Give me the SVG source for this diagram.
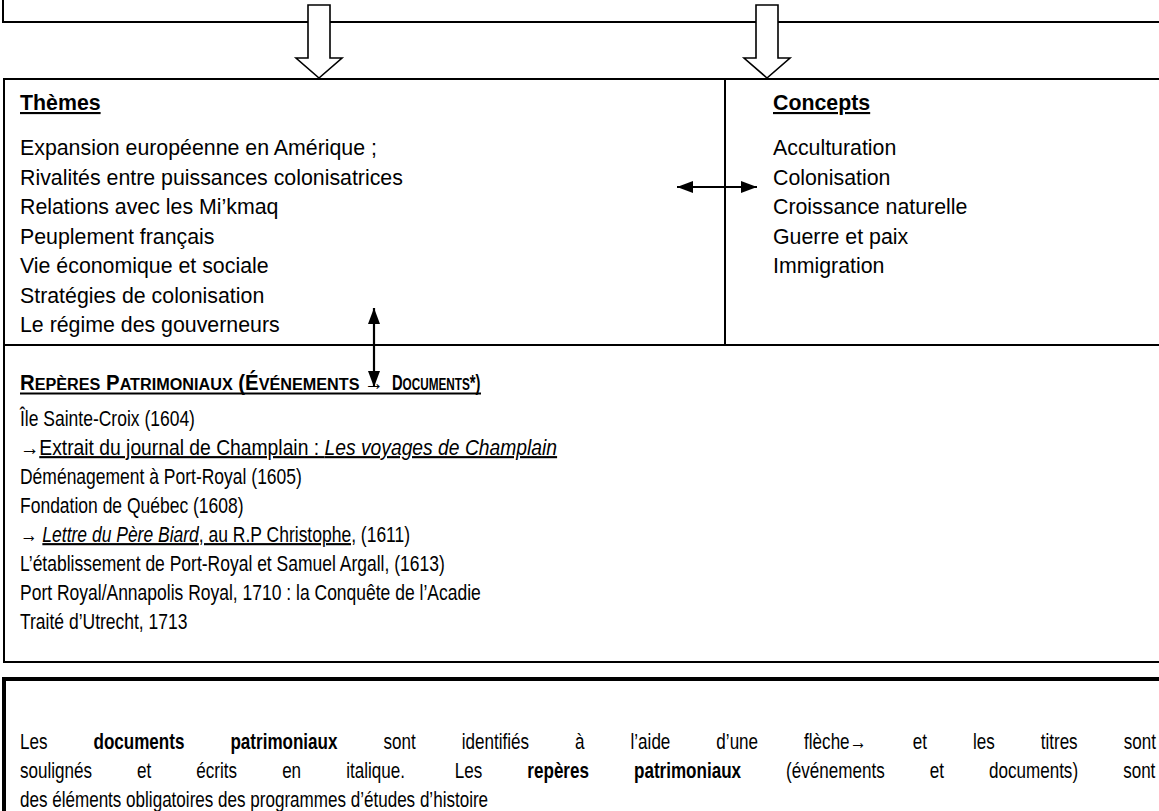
<svg xmlns="http://www.w3.org/2000/svg" width="1159" height="811" viewBox="0 0 1159 811">
<style>
.ln{stroke:#000;stroke-width:2;fill:none}
.blk{fill:#fff;stroke:#000;stroke-width:1.6;stroke-linejoin:miter}
.t{font-family:"Liberation Sans",Arial,sans-serif;font-size:21.33px;fill:#000}
.b{font-weight:bold}
.u{text-decoration:underline}
.i{font-style:italic}
.sc{font-size:17px}
</style>
<defs>
<marker id="ah" viewBox="0 0 16 12" refX="16" refY="6" markerWidth="16" markerHeight="12" markerUnits="userSpaceOnUse" orient="auto-start-reverse">
<path d="M0,0 L16,6 L0,12 z" fill="#000"/>
</marker>
</defs>
<rect width="1159" height="811" fill="#fff"/>

<g id="top-box">
<path class="ln" d="M3,0 V22 H1160"/>
</g>

<g id="main-box">
<path class="ln" d="M1160,79 H4 V662 H1160"/>
<path class="ln" d="M4,345 H1160"/>
<path class="ln" d="M725,79 V345"/>
</g>

<g id="connectors">
<path class="blk" d="M308,5 H330 V58 H342 L319,78 L296,58 H308 Z"/>
<path class="blk" d="M756,5 H778 V58 H790 L767,78 L744,58 H756 Z"/>
<line x1="677" y1="187" x2="757" y2="187" stroke="#000" stroke-width="2.2" marker-start="url(#ah)" marker-end="url(#ah)"/>
<line x1="374" y1="308" x2="374" y2="387" stroke="#000" stroke-width="2.2" marker-start="url(#ah)" marker-end="url(#ah)"/>
</g>

<g id="themes">
<text class="t b u" x="20" y="110">Thèmes</text>
<text class="t" x="20" y="155">Expansion européenne en Amérique ;</text>
<text class="t" x="20" y="184.5">Rivalités entre puissances colonisatrices</text>
<text class="t" x="20" y="214">Relations avec les Mi’kmaq</text>
<text class="t" x="20" y="243.5">Peuplement français</text>
<text class="t" x="20" y="273">Vie économique et sociale</text>
<text class="t" x="20" y="302.5">Stratégies de colonisation</text>
<text class="t" x="20" y="332">Le régime des gouverneurs</text>
</g>

<g id="concepts">
<text class="t b u" x="773" y="110">Concepts</text>
<text class="t" x="773" y="155">Acculturation</text>
<text class="t" x="773" y="184.5">Colonisation</text>
<text class="t" x="773" y="214">Croissance naturelle</text>
<text class="t" x="773" y="243.5">Guerre et paix</text>
<text class="t" x="773" y="273">Immigration</text>
</g>

<g id="reperes">
<line x1="20" y1="393.5" x2="481" y2="393.5" stroke="#000" stroke-width="2"/>
<g transform="scale(0.82 1)">
<text class="t b" x="24.4" y="390" textLength="414" lengthAdjust="spacingAndGlyphs">R<tspan class="sc">EPÈRES</tspan> P<tspan class="sc">ATRIMONIAUX</tspan> (É<tspan class="sc">VÉNEMENTS</tspan></text>
<text class="t b" x="444" y="390" textLength="24" lengthAdjust="spacingAndGlyphs">→</text>
<text class="t b" x="478" y="390" textLength="108" lengthAdjust="spacingAndGlyphs">D<tspan class="sc">OCUMENTS</tspan>*)</text>
<text class="t" x="24.4" y="426">Île Sainte-Croix (1604)</text>
<text class="t" x="24.4" y="455" textLength="655" lengthAdjust="spacingAndGlyphs">→<tspan class="u">Extrait du journal de Champlain : <tspan class="i">Les voyages de Champlain</tspan></tspan></text>
<text class="t" x="24.4" y="484">Déménagement à Port-Royal (1605)</text>
<text class="t" x="24.4" y="513">Fondation de Québec (1608)</text>
<text class="t" x="24.4" y="542">→ <tspan class="u"><tspan class="i">Lettre du Père Biard</tspan>, au R.P Christophe,</tspan> (1611)</text>
<text class="t" x="24.4" y="571">L’établissement de Port-Royal et Samuel Argall, (1613)</text>
<text class="t" x="24.4" y="600">Port Royal/Annapolis Royal, 1710 : la Conquête de l’Acadie</text>
<text class="t" x="24.4" y="629">Traité d’Utrecht, 1713</text>
</g>
</g>

<g id="note">
<path d="M1162,679 H4 V815" fill="none" stroke="#000" stroke-width="4"/>
<g transform="scale(0.8 1)">
<text class="t" x="25" y="749" word-spacing="51.6">Les <tspan class="b">documents patrimoniaux</tspan> sont identifiés à l’aide d’une flèche→ et les titres sont</text>
<text class="t" x="25" y="778" word-spacing="50.4">soulignés et écrits en italique. <tspan dx="6">Les</tspan> <tspan class="b">repères patrimoniaux</tspan> (événements et documents) sont</text>
<text class="t" x="25" y="807">des éléments obligatoires des programmes d’études d’histoire</text>
</g>
</g>
</svg>
